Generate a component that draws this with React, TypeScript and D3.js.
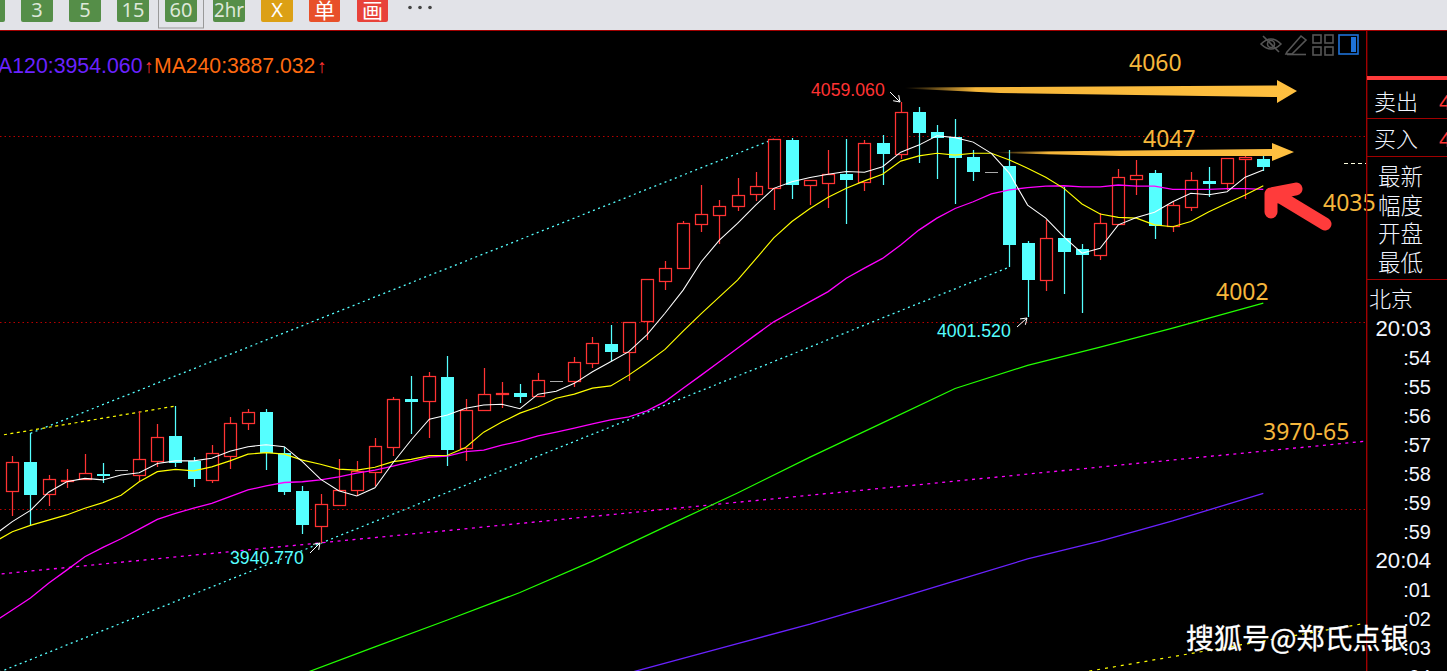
import React from "react";
import * as d3 from "d3";

// ---- candle data (index 0..69) ----
const opens = [3954.8,3962.5,3954.0,3957.7,3958.0,3959.3,3960.3,3959.1,3962.8,3969.5,3962.8,3957.7,3964.2,3973.0,3975.9,3964.8,3954.7,3945.4,3951.0,3955.1,3959.9,3966.6,3979.4,3978.9,3985.3,3966.3,3976.5,3980.8,3981.0,3980.3,3984.1,3984.3,3989.1,3994.1,3992.1,4000.4,4011.1,4014.6,4026.4,4028.8,4031.2,4034.5,4036.1,4048.9,4036.9,4037.4,4039.7,4037.7,4048.1,4045.2,4056.4,4051.0,4049.7,4044.3,4040.3,4041.9,4021.2,4011.3,4022.6,4019.6,4018.1,4026.4,4038.4,4040.0,4025.8,4030.9,4037.9,4037.4,4043.9,4043.8];
const closes = [3962.4,3953.6,3957.9,3957.8,3959.5,3958.7,3960.3,3963.2,3969.1,3962.2,3957.9,3964.8,3972.9,3975.8,3964.8,3954.4,3945.6,3951.1,3954.9,3960.1,3966.7,3979.3,3978.6,3985.5,3965.7,3976.4,3980.7,3980.9,3979.9,3984.4,3984.1,3989.2,3994.3,3992.1,4000.0,4011.5,4014.5,4026.5,4028.9,4031.1,4034.0,4036.4,4049.1,4036.8,4038.1,4039.7,4038.1,4048.0,4045.1,4056.3,4050.7,4049.4,4044.0,4040.3,4040.3,4020.7,4011.3,4022.5,4018.8,4018.0,4026.5,4038.9,4039.4,4025.8,4031.4,4038.1,4037.1,4044.0,4044.2,4041.6];
const highs = [3964.1,3970.2,3959.0,3960.6,3964.6,3962.2,3960.3,3976.2,3972.7,3977.5,3963.8,3967.0,3974.6,3976.6,3976.6,3966.4,3956.1,3953.9,3963.3,3962.8,3968.9,3979.9,3985.6,3986.6,3990.9,3979.3,3987.7,3983.9,3983.4,3986.4,3984.1,3990.7,3996.0,3999.2,4000.0,4011.5,4016.3,4027.1,4036.8,4032.8,4038.7,4040.3,4049.1,4049.4,4038.1,4046.2,4049.1,4048.9,4050.2,4059.06,4057.7,4052.9,4054.5,4046.2,4040.3,4046.2,4021.8,4027.4,4036.3,4021.0,4029.2,4041.1,4043.5,4040.8,4032.2,4040.3,4041.6,4044.0,4044.6,4044.6];
const lows = [3948.1,3945.4,3950.7,3955.5,3957.9,3956.9,3960.3,3957.2,3961.2,3961.1,3955.9,3956.9,3960.7,3971.1,3960.3,3953.6,3943.2,3940.77,3951.0,3953.4,3956.1,3964.1,3970.0,3969.0,3961.4,3962.8,3976.2,3977.0,3978.4,3979.8,3984.1,3982.6,3987.7,3989.6,3984.2,3995.3,4008.6,4014.6,4024.2,4021.0,4029.9,4032.5,4030.1,4033.0,4031.4,4030.6,4026.3,4035.2,4036.8,4043.8,4042.7,4038.4,4031.7,4037.9,4040.3,4014.8,4001.52,4008.4,4007.6,4002.5,4016.7,4026.4,4034.1,4022.3,4024.2,4029.8,4033.6,4035.5,4033.0,4040.6];

// ---- moving averages (first value sits one bar before candle 0) ----
const ma5 = [3942.9,3946.5,3949.5,3954.4,3957.2,3958.1,3957.7,3959.0,3959.6,3962.1,3962.8,3962.8,3963.5,3965.4,3966.6,3967.1,3966.6,3962.6,3957.9,3954.8,3953.4,3955.6,3962.3,3968.4,3974.0,3975.1,3976.9,3977.8,3978.0,3976.8,3980.7,3981.5,3983.6,3986.7,3989.4,3992.1,3996.6,4002.4,4008.6,4016.2,4022.0,4026.5,4031.4,4035.9,4037.7,4038.8,4039.7,4040.4,4040.2,4041.7,4045.6,4047.5,4050.0,4049.5,4048.3,4045.3,4039.9,4031.4,4027.9,4022.9,4018.5,4019.8,4026.1,4028.1,4029.5,4032.3,4034.6,4034.2,4035.0,4038.9,4040.8];
const ma10 = [3941.0,3943.8,3945.5,3946.9,3948.3,3950.1,3951.6,3953.6,3957.2,3959.9,3960.5,3960.1,3961.2,3962.8,3964.6,3965.0,3964.6,3963.0,3961.9,3960.6,3960.3,3961.1,3962.6,3963.2,3964.2,3964.3,3966.4,3970.5,3973.2,3975.6,3977.3,3979.6,3980.7,3982.3,3982.9,3985.8,3989.1,3992.7,3997.6,4002.3,4006.8,4011.3,4016.9,4022.6,4027.0,4030.5,4033.5,4035.9,4037.9,4039.7,4043.2,4044.6,4045.3,4044.8,4045.3,4045.3,4043.5,4041.3,4038.9,4035.9,4031.7,4029.0,4028.1,4027.9,4026.1,4025.6,4027.0,4029.6,4031.9,4034.1,4036.6];
const ma20 = [3919.6,3922.8,3926.0,3930.0,3933.5,3937.1,3939.6,3941.9,3944.5,3947.1,3948.7,3950.1,3951.4,3953.2,3955.0,3956.1,3957.0,3957.2,3957.7,3958.5,3959.5,3960.3,3961.4,3962.6,3963.8,3964.1,3965.3,3965.7,3967.0,3968.1,3969.5,3970.5,3971.6,3972.7,3973.8,3974.6,3976.2,3978.7,3982.3,3985.8,3989.4,3993.0,3996.6,4000.1,4002.8,4005.5,4008.2,4011.8,4014.5,4017.1,4020.7,4024.7,4027.9,4030.5,4032.3,4034.4,4035.5,4036.1,4036.5,4036.6,4036.3,4036.3,4036.8,4036.5,4036.5,4035.6,4035.6,4035.6,4035.8,4035.8,4035.6];
const ma60Bars = [16,20,24,28,32,36,40,44,48,52,56,60,64,69];
const ma60 = [3905.6,3912.9,3920.1,3927.5,3935.9,3945.1,3954.2,3963.8,3973.0,3982.2,3988.4,3993.3,3998.4,4005.1];
const ma120Bars = [34,40,44,48,52,56,60,64,69];
const ma120 = [3905.9,3913.8,3919.0,3924.7,3930.6,3936.5,3941.3,3946.7,3954.06];

// ---- trend lines [bar, price, bar, price] ----
const trendCyanUp = [1,3970.2,42,4049.1];
const trendCyanLow = [-1,3905.6,55,4014.8];
const trendYellowUp = [-0.46,3969.8,9,3977.5];
const trendMagenta = [-1,3932.3,74.7,3968.1];
const trendYellowLow = [59.4,3906.4,74.6,3919.2];

const gridPrices = [4050,4000,3950];

// ---- texts ----
const toolbarLabels = ["3","5","15","60","2hr"];
const timeLabels = ["20:03",":54",":55",":56",":57",":58",":59",":59","20:04",":01",":02",":03",":04"];
const sideLabels = ["最新","幅度","开盘","最低"];
const levelLabels: [string, number, number][] = [["4060",1129,71],["4047",1143,147],["4035",1323,211],["4002",1216,300],["3970-65",1263,440]];

const W = 1447, H = 671, PX = 1366;
const x = d3.scaleLinear().domain([0, 69]).range([12.3, 1263.3]);
const y = d3.scaleLinear().domain([4059.06, 3940.77]).range([102, 543]);
const RED = "#FF3333", CYAN = "#55FFFF", GOLD = "#F6B73C";
const px = (v: number) => Math.round(v);

const seqPath = (vals: number[], bars: number[]) =>
  d3.line<number>().x((_, k) => x(bars[k])).y((d) => y(d))(vals) as string;
const ma = (vals: number[]) => seqPath(vals, vals.map((_, k) => k - 1));
const trend = (t: number[]) => `M${x(t[0])},${y(t[1])}L${x(t[2])},${y(t[3])}`;

const sans = "'Liberation Sans', Arial, sans-serif";
const cjk = "'Noto Sans CJK SC', sans-serif";
const noto = "'Noto Sans', sans-serif";

function Arrow({ x1, y1, x2, y2 }: { x1: number; y1: number; x2: number; y2: number }) {
  const a = Math.atan2(y2 - y1, x2 - x1), L = 7;
  const h = (d: number) => `${x2 - L * Math.cos(a + d)},${y2 - L * Math.sin(a + d)}`;
  return <path d={`M${x1},${y1}L${x2},${y2}M${h(0.6)}L${x2},${y2}L${h(-0.6)}`} fill="none" stroke="#fff" strokeWidth={1} />;
}

export default function App() {
  return (
    <svg width={W} height={H} viewBox={`0 0 ${W} ${H}`} style={{ position: "absolute", left: 0, top: 0, display: "block", background: "#000" }}>
      <defs>
        <clipPath id="plot"><rect x={0} y={31} width={PX} height={H - 31} /></clipPath>
        <linearGradient id="gold1" x1="0" x2="1" y1="0" y2="0">
          <stop offset="0" stopColor="#FFBE3C" stopOpacity={0} />
          <stop offset="0.18" stopColor="#F5B63A" />
          <stop offset="1" stopColor="#FFC040" />
        </linearGradient>
      </defs>

      {/* toolbar */}
      <rect x={0} y={0} width={W} height={30} fill="#E2E3E8" />
      <rect x={0} y={30} width={W} height={1} fill="#A00000" />
      <rect x={-8} y={-4} width={13} height={26} rx={2} fill="#558E48" />
      {toolbarLabels.map((t, i) => (
        <g key={t}>
          {t === "60" && <rect x={158.5} y={-2} width={45} height={30} fill="none" stroke="#999" />}
          <rect x={21 + i * 48} y={-4} width={32} height={26} rx={2} fill="#558E48" />
          <text x={37 + i * 48} y={17} fontFamily={noto} fontSize={t.length > 2 ? 19 : 20} fill="#DDE8D8" textAnchor="middle" textLength={t.length > 2 ? 30 : undefined} lengthAdjust="spacingAndGlyphs">{t}</text>
        </g>
      ))}
      <rect x={261} y={-4} width={32} height={26} rx={2} fill="#DCA015" />
      <text x={277} y={17} fontFamily={noto} fontSize={20} fill="#fff" textAnchor="middle">X</text>
      <rect x={309} y={-4} width={31} height={26} rx={2} fill="#E8502A" />
      <text x={324.5} y={18} fontFamily={cjk} fontSize={21} fill="#fff" textAnchor="middle">单</text>
      <rect x={357} y={-4} width={31} height={26} rx={2} fill="#E8423A" />
      <text x={372.5} y={18} fontFamily={cjk} fontSize={21} fill="#fff" textAnchor="middle">画</text>
      {[410, 420, 430].map((c) => <circle key={c} cx={c} cy={7.5} r={1.8} fill="#444" />)}

      {/* chart */}
      <g clipPath="url(#plot)">
        {gridPrices.map((p) => (
          <line key={p} x1={0} x2={PX} y1={px(y(p)) + 0.5} y2={px(y(p)) + 0.5} stroke="#B80000" strokeWidth={1} strokeDasharray="1.5 3" />
        ))}
        <path d={trend(trendCyanUp)} fill="none" stroke={CYAN} strokeDasharray="2 3.5" strokeWidth={1.3} />
        <path d={trend(trendCyanLow)} fill="none" stroke={CYAN} strokeDasharray="2 3.5" strokeWidth={1.3} />
        <path d={trend(trendYellowUp)} fill="none" stroke="#FFFF00" strokeDasharray="3 3.5" strokeWidth={1.2} />
        <path d={trend(trendMagenta)} fill="none" stroke="#FF00FF" strokeDasharray="3 4.5" strokeWidth={1.3} />
        <path d={trend(trendYellowLow)} fill="none" stroke="#FFFF00" strokeDasharray="3 5" strokeWidth={1.2} />

        {opens.map((o, i) => {
          const c = closes[i], cx = px(x(i));
          const top = px(y(Math.max(o, c))), bot = px(y(Math.min(o, c)));
          if (o === c) return <line key={i} x1={cx - 6} x2={cx + 7} y1={top + 0.5} y2={top + 0.5} stroke="#AAAAAA" shapeRendering="crispEdges" />;
          const up = c > o, col = up ? RED : CYAN;
          return (
            <g key={i}>
              <line x1={cx + 0.5} x2={cx + 0.5} y1={px(y(highs[i]))} y2={top} stroke={col} strokeWidth={1.25} />
              <line x1={cx + 0.5} x2={cx + 0.5} y1={bot} y2={px(y(lows[i]))} stroke={col} strokeWidth={1.25} />
              {up
                ? <rect x={cx - 5.5} y={top + 0.5} width={12} height={Math.max(bot - top, 1)} fill="#000" stroke={col} strokeWidth={1.25} />
                : <rect x={cx - 6} y={top} width={13} height={Math.max(bot - top, 2)} fill={col} />}
            </g>
          );
        })}

        <path d={ma(ma20)} fill="none" stroke="#FF00FF" strokeWidth={1.3} />
        <path d={ma(ma10)} fill="none" stroke="#FFFF00" strokeWidth={1.15} />
        <path d={ma(ma5)} fill="none" stroke="#FFFFFF" strokeWidth={1.05} />
        <path d={seqPath(ma60, ma60Bars)} fill="none" stroke="#22FF00" strokeWidth={1.2} />
        <path d={seqPath(ma120, ma120Bars)} fill="none" stroke="#6A22FF" strokeWidth={1.3} />
      </g>

      {/* legend */}
      <text x={-2} y={73} fontFamily={sans} fontSize={21.3} fill="#6A22FF">A120:3954.060</text>
      <text x={149} y={73} fontFamily={sans} fontSize={19} fill={RED} textAnchor="middle">↑</text>
      <text x={154} y={73} fontFamily={sans} fontSize={21.2} fill="#FF6A10">MA240:3887.032</text>
      <text x={322} y={73} fontFamily={sans} fontSize={19} fill={RED} textAnchor="middle">↑</text>

      {/* extreme labels */}
      <text x={811} y={96} fontFamily={sans} fontSize={17.7} fill={RED}>4059.060</text>
      <Arrow x1={890} y1={92} x2={900} y2={102} />
      <text x={937} y={337} fontFamily={sans} fontSize={17.7} fill={CYAN}>4001.520</text>
      <Arrow x1={1017} y1={327} x2={1027} y2={318} />
      <text x={230} y={564} fontFamily={sans} fontSize={17.7} fill={CYAN}>3940.770</text>
      <Arrow x1={310} y1={553} x2={320} y2={543} />

      {/* hand-drawn annotations */}
      <polygon points="905,87.5 1277,85.5 1277,80 1297,91 1277,103 1277,97 1000,93 905,88.5" fill="url(#gold1)" />
      <polygon points="995,152 1272,149 1272,143 1294,152 1272,161 1272,156 1120,156 995,153" fill="url(#gold1)" />
      <path d="M1325,224L1282,198L1271,194L1271,212M1271,194L1296,189" fill="none" stroke="#FF3B3B" strokeWidth={13} strokeLinecap="round" strokeLinejoin="round" />
      {levelLabels.map(([t, lx, ly]) => (
        <text key={t} x={lx} y={ly} fontFamily={noto} fontSize={23} fill={GOLD}>{t}</text>
      ))}

      {/* top-right icons */}
      <g fill="none" stroke="#555" strokeWidth={1.6}>
        <path d="M1261,44Q1271,34 1281,44Q1271,54 1261,44Z" />
        <circle cx={1271} cy={44} r={3.5} />
        <path d="M1263,36L1279,52" />
        <path d="M1287,52L1301,36L1306,40L1292,54L1286,54Z" />
        <path d="M1287,54.5L1306,54.5" />
        <rect x={1313} y={35} width={8} height={8} />
        <rect x={1325} y={35} width={8} height={8} />
        <rect x={1313} y={47} width={8} height={8} />
        <rect x={1325} y={47} width={8} height={8} />
      </g>
      <rect x={1339} y={35} width={19} height={19} fill="none" stroke="#1E72D8" strokeWidth={1.6} />
      <rect x={1351} y={37} width={5} height={15} fill="#1E72D8" />

      {/* right panel */}
      <rect x={PX} y={31} width={1.4} height={H - 31} fill="#A00000" />
      <rect x={PX + 1} y={76} width={W - PX} height={4} fill="#FF3B3B" />
      {[118, 156, 279].map((ly) => <rect key={ly} x={PX + 1} y={ly} width={W - PX} height={1} fill="#A00000" />)}
      <text x={1374} y={110} fontFamily={cjk} fontSize={22} fill="#F2F6FF" fontWeight={300}>卖出</text>
      <text x={1374} y={147} fontFamily={cjk} fontSize={22} fill="#F2F6FF" fontWeight={300}>买入</text>
      <text x={1439} y={110} fontFamily={sans} fontSize={22} fill={RED}>4</text>
      <text x={1439} y={147} fontFamily={sans} fontSize={22} fill={RED}>4</text>
      {sideLabels.map((t, i) => (
        <text key={t} x={1378} y={185 + i * 28.7} fontFamily={cjk} fontSize={22.5} fill="#F2F6FF" fontWeight={300}>{t}</text>
      ))}
      <text x={1369} y={307} fontFamily={cjk} fontSize={22} fill="#F2F6FF" fontWeight={300}>北京</text>
      {timeLabels.map((t, i) => (
        <text key={i} x={1431} y={335.5 + i * 29} fontFamily={sans} fontSize={t.length > 3 ? 22.2 : 20} fill="#F2F6FF" textAnchor="end">{t}</text>
      ))}
      <line x1={1344} x2={1366} y1={163.5} y2={163.5} stroke="#FFFFE0" strokeDasharray="4 3" />

      {/* watermark */}
      <text x={1186} y={649} fontFamily={cjk} fontSize={28} fill="#fff" stroke="#fff" strokeWidth={0.3}>搜狐号@郑氏点银</text>
    </svg>
  );
}
